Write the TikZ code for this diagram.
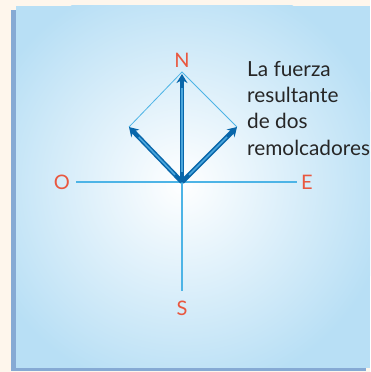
\documentclass[tikz,border=0pt]{standalone}
\usepackage{fontspec}
\setmainfont{Lato}
\usetikzlibrary{arrows.meta}
\definecolor{cream}{HTML}{FEF6EC}
\definecolor{panelblue}{HTML}{B8DFF5}
\definecolor{shadowblue}{HTML}{86AAD4}
\definecolor{axisblue}{HTML}{4DB4E6}
\definecolor{arrowdark}{HTML}{0866AA}
\definecolor{arrowlight}{HTML}{4AA6DC}
\definecolor{labelred}{HTML}{E9573F}
\definecolor{textdark}{HTML}{262626}
\tikzset{
  axisline/.style={draw=axisblue, line width=1.4},
  thinline/.style={draw=axisblue, line width=0.8},
  vecdark/.style={draw=arrowdark, line width=4.6, -{Stealth[length=9, width=11]}},
  veclight/.style={draw=arrowlight, line width=1.6, shorten <=10, shorten >=14},
  dirlabel/.style={text=labelred, font=\fontsize{20}{20}\selectfont, inner sep=0},
  caption/.style={text=textdark, font=\fontsize{20.8}{20.8}\selectfont, anchor=base west, inner sep=0}
}
\begin{document}
\begin{tikzpicture}[x=1pt,y=1pt]
\useasboundingbox (0,0) rectangle (370,372);
\fill[cream] (0,0) rectangle (370,372);
\fill[shadowblue] (11,1) rectangle (366,362);
\begin{scope}
  \clip (16,4) rectangle (370,366);
  \fill[panelblue] (16,4) rectangle (370,366);
  \shade[inner color=white, outer color=panelblue] (182,188) circle (210);
\end{scope}
\coordinate (c) at (182,190);
\coordinate (top) at (182,300);
\coordinate (ntip) at (182,298);
\coordinate (l) at (129,245);
\coordinate (r) at (237,245);
\coordinate (w) at (76,190);
\coordinate (e) at (297,190);
\coordinate (s) at (182,81);
\draw[axisline] (w) -- (e);
\draw[axisline] (c) -- (s);
\draw[thinline] (l) -- (top) -- (r);
\foreach \t in {l,r,ntip}{
  \draw[vecdark] (c) -- (\t);
  \draw[veclight] (c) -- (\t);
}
\node[dirlabel] (N) at (182,312) {N};
\node[dirlabel] (O) at (62,190) {O};
\node[dirlabel] (E) at (307,190) {E};
\node[dirlabel] (S) at (182,64) {S};
\node[caption] (t1) at (247,295) {La fuerza};
\node[caption] (t2) at (247,269) {resultante};
\node[caption] (t3) at (247,243) {de dos};
\node[caption] (t4) at (247,216) {remolcadores};
\end{tikzpicture}
\end{document}
